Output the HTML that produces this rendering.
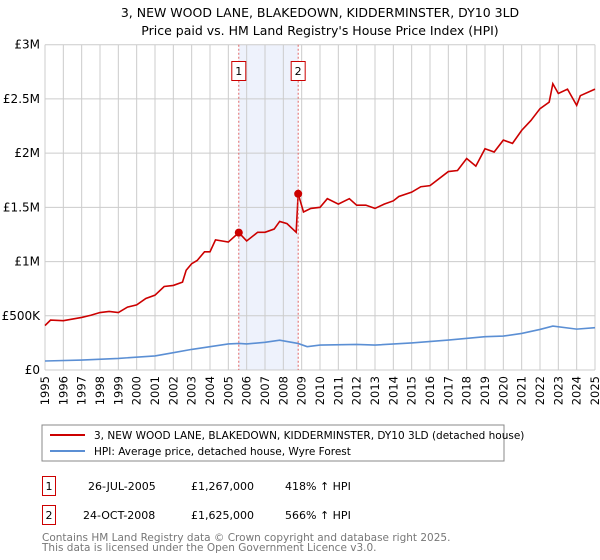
<!DOCTYPE html>
<html><head><meta charset="utf-8"><style>
body{margin:0;background:#fff;}
svg{display:block;font-family:"DejaVu Sans","Liberation Sans",sans-serif;}
</style></head><body>
<svg id="c" width="600" height="560" viewBox="0 0 600 560">
<text x="320" y="17" text-anchor="middle" font-size="12.5">3, NEW WOOD LANE, BLAKEDOWN, KIDDERMINSTER, DY10 3LD</text>
<text x="320" y="35" text-anchor="middle" font-size="12.5">Price paid vs. HM Land Registry's House Price Index (HPI)</text>
<g id="grid"></g><g id="marks"></g><g id="axes"></g>
<rect x="42" y="425" width="462" height="36" fill="#fff" stroke="#888"/>
<line x1="50" y1="435" x2="85" y2="435" stroke="#cc0000" stroke-width="2"/>
<text x="94" y="439" font-size="10.5">3, NEW WOOD LANE, BLAKEDOWN, KIDDERMINSTER, DY10 3LD (detached house)</text>
<line x1="50" y1="451" x2="85" y2="451" stroke="#5b8fd4" stroke-width="2"/>
<text x="94" y="455" font-size="10.5">HPI: Average price, detached house, Wyre Forest</text>
<g font-size="11">
<rect x="42.5" y="476.5" width="13" height="19" fill="none" stroke="#cc0000"/>
<text x="49" y="490" text-anchor="middle">1</text>
<text x="88" y="490">26-JUL-2005</text>
<text x="191" y="490">£1,267,000</text>
<text x="285" y="490">418% ↑ HPI</text>
<rect x="42.5" y="505.5" width="13" height="19" fill="none" stroke="#cc0000"/>
<text x="49" y="519" text-anchor="middle">2</text>
<text x="83" y="519">24-OCT-2008</text>
<text x="191" y="519">£1,625,000</text>
<text x="285" y="519">566% ↑ HPI</text>
</g>
<text x="42" y="541" font-size="10.5" fill="#777">Contains HM Land Registry data © Crown copyright and database right 2025.</text>
<text x="42" y="551" font-size="10.5" fill="#777">This data is licensed under the Open Government Licence v3.0.</text>
</svg>
<script>
const yTicks=[0,500000,1000000,1500000,2000000,2500000,3000000];
const yTickLabels=["£0","£500K","£1M","£1.5M","£2M","£2.5M","£3M"];
const years=[1995,1996,1997,1998,1999,2000,2001,2002,2003,2004,2005,2006,2007,2008,2009,2010,2011,2012,2013,2014,2015,2016,2017,2018,2019,2020,2021,2022,2023,2024,2025];
const propT=[1995.0,1995.3,1996,1997,1997.5,1998,1998.5,1999,1999.5,2000,2000.5,2001,2001.5,2002,2002.5,2002.7,2003,2003.3,2003.7,2004,2004.3,2005,2005.57,2006,2006.6,2007,2007.5,2007.8,2008.2,2008.7,2008.81,2009.1,2009.5,2010,2010.4,2011,2011.6,2012,2012.5,2013,2013.5,2014,2014.3,2015,2015.5,2016,2017,2017.5,2018,2018.5,2019,2019.5,2020,2020.5,2021,2021.5,2022,2022.5,2022.7,2023,2023.5,2024,2024.2,2025];
const propV=[0.41,0.46,0.455,0.485,0.505,0.53,0.54,0.53,0.58,0.60,0.66,0.69,0.77,0.78,0.81,0.92,0.98,1.01,1.09,1.09,1.20,1.18,1.267,1.19,1.27,1.27,1.30,1.37,1.35,1.27,1.625,1.457,1.49,1.50,1.58,1.53,1.58,1.52,1.52,1.49,1.53,1.56,1.60,1.64,1.69,1.70,1.83,1.84,1.95,1.88,2.04,2.01,2.12,2.09,2.21,2.30,2.41,2.47,2.64,2.55,2.59,2.44,2.53,2.59];
const hpiT=[1995,1997,1999,2001,2002,2003,2004,2005,2005.6,2006,2007,2007.8,2008.8,2009.3,2010,2012,2013,2015,2017,2019,2020,2021,2022,2022.7,2024,2025];
const hpiV=[0.083,0.092,0.107,0.13,0.16,0.19,0.215,0.24,0.245,0.24,0.255,0.275,0.245,0.215,0.23,0.236,0.23,0.25,0.276,0.307,0.313,0.337,0.374,0.405,0.377,0.39];
const saleT=[2005.57,2008.81];
const saleV=[1.267,1.625];
const saleLabels=["1","2"];
const NS="http://www.w3.org/2000/svg";
const X0=45,X1=595,Y0=370,Y1=44.7;
const x=t=>X0+(t-1995)/30*(X1-X0);
const y=v=>Y0-v/3000000*(Y0-Y1);
const ym=v=>y(v*1e6);
function mk(tag,attrs,parent){const e=document.createElementNS(NS,tag);for(const k in attrs)e.setAttribute(k,attrs[k]);parent.appendChild(e);return e;}
const grid=document.getElementById('grid'),marks=document.getElementById('marks'),axes=document.getElementById('axes');
let sh=mk('rect',{x:x(saleT[0]),y:Y1,width:x(saleT[1])-x(saleT[0]),height:Y0-Y1,fill:'#eef2fc'},grid);


years.forEach(yr=>{let l=mk('line',{x1:x(yr),x2:x(yr),y1:Y1,y2:Y0,stroke:'#ccc'},grid);


let t=mk('text',{transform:`translate(${x(yr)+4},${Y0+6}) rotate(-90)`,'text-anchor':'end','font-size':'11.5'},axes);t.textContent=yr;

});
yTicks.forEach((v,i)=>{let l=mk('line',{x1:X0,x2:X1,y1:y(v),y2:y(v),stroke:'#ccc'},grid);


let t=mk('text',{x:X0-5,y:y(v)+4,'text-anchor':'end','font-size':'12'},axes);t.textContent=yTickLabels[i];

});
let hp=mk('polyline',{points:hpiT.map((t,i)=>x(t)+','+ym(hpiV[i])).join(' '),fill:'none',stroke:'#5b8fd4','stroke-width':1.6},marks);


let pp=mk('polyline',{points:propT.map((t,i)=>x(t)+','+ym(propV[i])).join(' '),fill:'none',stroke:'#cc0000','stroke-width':1.6},marks);


saleT.forEach((t,i)=>{let l=mk('line',{x1:x(t),x2:x(t),y1:Y1,y2:Y0,stroke:'#e06666','stroke-dasharray':'2,2'},marks);


let c=mk('circle',{cx:x(t),cy:ym(saleV[i]),r:4,fill:'#cc0000'},marks);


let b=mk('rect',{x:x(t)-7,y:61.5,width:14,height:19,fill:'#fff',stroke:'#cc0000'},marks);


let tx=mk('text',{x:x(t),y:75,'text-anchor':'middle','font-size':'11'},marks);tx.textContent=saleLabels[i];

});
</script>
</body></html>
